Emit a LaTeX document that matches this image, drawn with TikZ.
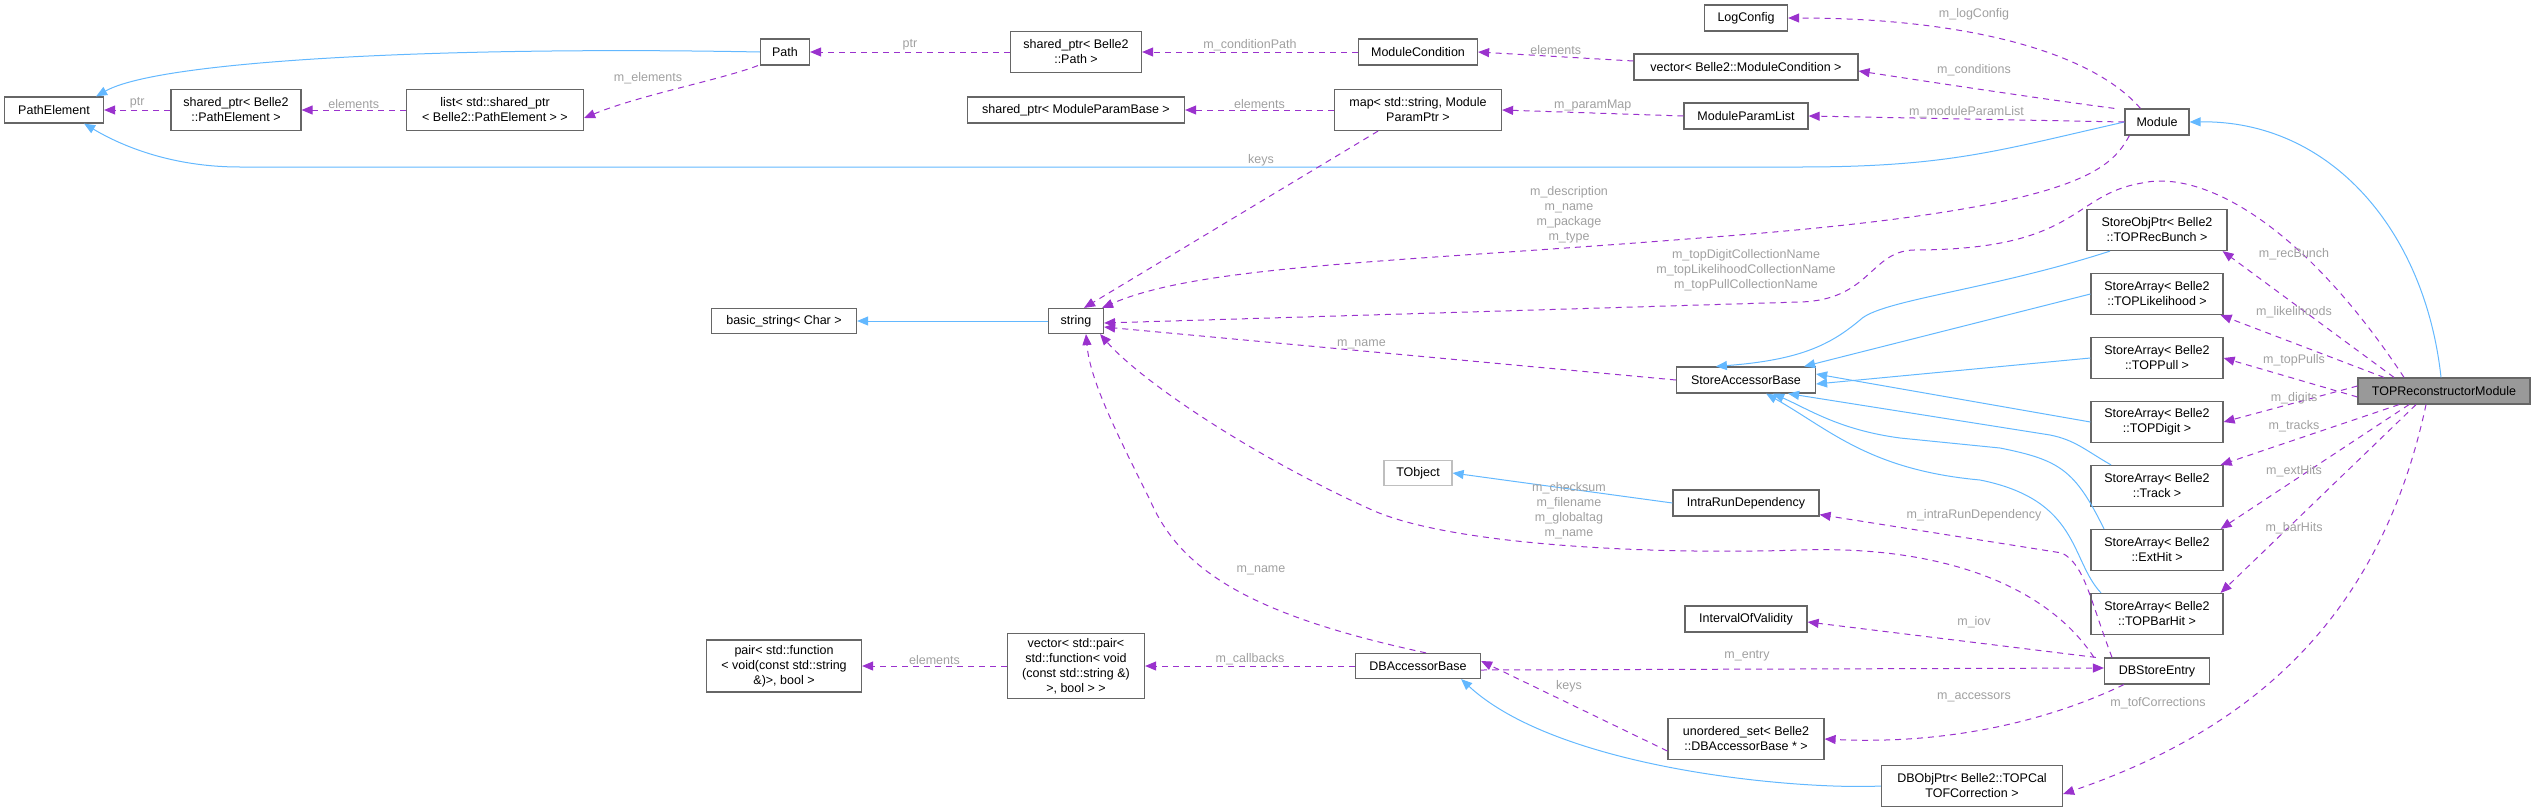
\documentclass[tikz,border=0pt]{standalone}
\usepackage{fontspec}
\setmainfont{Liberation Sans}
\usetikzlibrary{arrows.meta}
\definecolor{inh}{RGB}{99,184,255}
\definecolor{use}{RGB}{154,50,205}
\definecolor{lbl}{RGB}{160,160,160}
\definecolor{bord}{RGB}{102,102,102}
\begin{document}
\begin{tikzpicture}[x=1pt,y=-1pt,
  box/.style={draw=bord,line width=1.2pt,fill=white,inner sep=0pt,align=center,font=\fontsize{12.5}{15}\selectfont},
  inh/.style={draw=inh,line width=1pt,-{Triangle[length=11pt,width=9pt]}},
  use/.style={draw=use,line width=1pt,dash pattern=on 6pt off 5pt,-{Triangle[length=11pt,width=9pt]}},
  lab/.style={text=lbl,font=\fontsize{12.5}{15}\selectfont,align=center,inner sep=1pt}]
\useasboundingbox (0,0) rectangle (2531,811);
% nodes
\node[box,minimum width=99,minimum height=26] (pe) at (54,110) {PathElement};
\node[box,minimum width=130,minimum height=41] (spe) at (236,110) {shared\_ptr< Belle2\\::PathElement >};
\node[box,minimum width=177,minimum height=41] (lst) at (495,110) {list< std::shared\_ptr\\< Belle2::PathElement > >};
\node[box,minimum width=49,minimum height=26] (path) at (785,52) {Path};
\node[box,minimum width=131,minimum height=41] (spp) at (1076,52) {shared\_ptr< Belle2\\::Path >};
\node[box,minimum width=119,minimum height=26] (mc) at (1418,52) {ModuleCondition};
\node[box,minimum width=224,minimum height=26] (vmc) at (1746,67) {vector< Belle2::ModuleCondition >};
\node[box,minimum width=83,minimum height=26] (log) at (1746,18) {LogConfig};
\node[box,minimum width=217,minimum height=26] (spmb) at (1076,110) {shared\_ptr< ModuleParamBase >};
\node[box,minimum width=167,minimum height=41] (map) at (1418,110) {map< std::string, Module\\ParamPtr >};
\node[box,minimum width=124,minimum height=26] (mpl) at (1746,116) {ModuleParamList};
\node[box,minimum width=64,minimum height=26] (mod) at (2157,122) {Module};
\node[box,minimum width=145,minimum height=25] (bstr) at (784,321) {basic\_string< Char >};
\node[box,minimum width=55,minimum height=25] (str) at (1076,321) {string};
\node[box,minimum width=139,minimum height=26] (sab) at (1746,380) {StoreAccessorBase};
\node[box,minimum width=140,minimum height=41] (sop) at (2157,230) {StoreObjPtr< Belle2\\::TOPRecBunch >};
\node[box,minimum width=132,minimum height=41] (slh) at (2157,294) {StoreArray< Belle2\\::TOPLikelihood >};
\node[box,minimum width=132,minimum height=41] (spu) at (2157,358) {StoreArray< Belle2\\::TOPPull >};
\node[box,minimum width=132,minimum height=41] (sdi) at (2157,422) {StoreArray< Belle2\\::TOPDigit >};
\node[box,minimum width=132,minimum height=41] (str2) at (2157,486) {StoreArray< Belle2\\::Track >};
\node[box,minimum width=132,minimum height=41] (seh) at (2157,550) {StoreArray< Belle2\\::ExtHit >};
\node[box,minimum width=132,minimum height=41] (sbh) at (2157,614) {StoreArray< Belle2\\::TOPBarHit >};
\node[box,fill={rgb,255:red,153;green,153;blue,153},minimum width=172,minimum height=26] (top) at (2444,391) {TOPReconstructorModule};
\node[box,draw={rgb,255:red,191;green,191;blue,191},minimum width=68,minimum height=25] (tobj) at (1418,473) {TObject};
\node[box,minimum width=146,minimum height=26] (ird) at (1746,503) {IntraRunDependency};
\node[box,minimum width=122,minimum height=26] (iov) at (1746,619) {IntervalOfValidity};
\node[box,minimum width=105,minimum height=26] (dbse) at (2157,671) {DBStoreEntry};
\node[box,minimum width=156,minimum height=41] (uset) at (1746,739) {unordered\_set< Belle2\\::DBAccessorBase * >};
\node[box,minimum width=181,minimum height=41] (dbop) at (1972,786) {DBObjPtr< Belle2::TOPCal\\TOFCorrection >};
\node[box,minimum width=125,minimum height=25] (dbab) at (1418,666) {DBAccessorBase};
\node[box,minimum width=137,minimum height=65] (vpr) at (1076,666) {vector< std::pair<\\std::function< void\\(const std::string \&)\\>, bool > >};
\node[box,minimum width=155,minimum height=52] (pair) at (784,666) {pair< std::function\\< void(const std::string\\\&)>, bool >};
% inheritance
\draw[inh] (path.west) .. controls (450,46) and (160,60) .. ([xshift=-8]pe.north east);
\draw[inh] (mod.west) .. controls (2000,150) and (1950,167) .. (1800,167) -- (240,167) .. controls (170,167) and (120,145) .. ([xshift=-20]pe.south east);
\draw[inh] ([xshift=-3]top.north) .. controls (2425,230) and (2330,120) .. (mod.east);
\draw[inh] ([xshift=-47]sop.south) .. controls (1990,290) and (1880,300) .. (1860,320) .. controls (1830,345) and (1800,360) .. ([xshift=40]sab.north west);
\draw[inh] (slh.west) -- ([xshift=-12]sab.north east);
\draw[inh] (spu.west) -- ([yshift=-4]sab.east);
\draw[inh] (sdi.west) -- ([yshift=6]sab.east);
\draw[inh] ([xshift=-46]str2.north) .. controls (2085,450) and (2075,440) .. (2050,435) -- ([xshift=-28]sab.south east);
\draw[inh] ([xshift=-53]seh.north) .. controls (2075,470) and (2060,460) .. (2000,448) -- (1900,438) .. controls (1840,430) and (1810,410) .. ([xshift=-43]sab.south east);
\draw[inh] ([xshift=-56]sbh.north) .. controls (2070,560) and (2080,500) .. (1980,480) .. controls (1870,470) and (1830,430) .. ([xshift=-50]sab.south east);
\draw[inh] (str.west) -- (bstr.east);
\draw[inh] (ird.west) -- (tobj.east);
\draw[inh] (dbop.west) .. controls (1800,790) and (1560,770) .. ([xshift=-20]dbab.south east);
% usage
\draw[use] (spe.west) -- node[lab,above] {ptr} (pe.east);
\draw[use] (lst.west) -- node[lab,above] {elements} (spe.east);
\draw[use] ([xshift=-2]path.south west) .. controls (720,80) and (640,95) .. ([yshift=-8]lst.east);
\node[lab] (l1) at (648,78) {m\_elements};
\draw[use] (spp.west) -- node[lab,above] {ptr} (path.east);
\draw[use] (mc.west) -- node[lab,above] {m\_conditionPath} (spp.east);
\draw[use] ([yshift=6]vmc.west) -- node[lab,above] {elements} (mc.east);
\draw[use] ([xshift=-10]mod.north west) .. controls (2050,100) and (1950,85) .. ([yshift=-4]vmc.east);
\node[lab] (l2) at (1974,70) {m\_conditions};
\draw[use] ([xshift=16]mod.north west) .. controls (2090,50) and (1960,18) .. (log.east);
\node[lab] (l3) at (1974,14) {m\_logConfig};
\draw[use] (mod.west) -- node[lab,above] {m\_moduleParamList} (mpl.east);
\draw[use] (mpl.west) -- node[lab,above] {m\_paramMap} (map.east);
\draw[use] (map.west) -- node[lab,above] {elements} (spmb.east);
\draw[use] ([xshift=-40]map.south) -- ([xshift=8]str.north);
\node[lab] (l4) at (1261,160) {keys};
\draw[use] ([xshift=5]mod.south west) .. controls (2110,170) and (2080,210) .. (1700,238) .. controls (1400,262) and (1200,265) .. ([xshift=-2]str.north east);
\node[lab] (l5) at (1569,215) {m\_description\\m\_name\\m\_package\\m\_type};
\draw[use] ([xshift=-40]top.north) .. controls (2300,220) and (2200,170) .. (2142,183) .. controls (2070,195) and (2080,250) .. (1913,250) .. controls (1870,252) and (1870,300) .. (1800,302) -- ([yshift=-2]str.east);
\node[lab] (l6) at (1746,270) {m\_topDigitCollectionName\\m\_topLikelihoodCollectionName\\m\_topPullCollectionName};
\draw[use] (sab.west) -- node[lab,above,pos=0.55] {m\_name} ([yshift=-6]str.east);
\draw[use] ([xshift=-10]dbse.north west) .. controls (2050,590) and (1950,545) .. (1800,550) .. controls (1650,555) and (1450,545) .. (1372,510) .. controls (1250,455) and (1140,380) .. ([xshift=-4]str.south east);
\node[lab] (l7) at (1569,511) {m\_checksum\\m\_filename\\m\_globaltag\\m\_name};
\draw[use] ([xshift=-55]dbab.north east) .. controls (1250,615) and (1180,570) .. (1150,500) .. controls (1115,430) and (1090,380) .. ([xshift=10]str.south);
\node[lab] (l8) at (1261,570) {m\_name};
\draw[use] ([xshift=-50]top.north) -- ([xshift=-5]sop.south east);
\node[lab] (l9) at (2294,254) {m\_recBunch};
\draw[use] ([xshift=-60]top.north) -- ([xshift=-3]slh.south east);
\node[lab] (l10) at (2294,312) {m\_likelihoods};
\draw[use] ([yshift=-6]top.west) -- (spu.east);
\node[lab] (l11) at (2294,360) {m\_topPulls};
\draw[use] ([yshift=5]top.west) -- (sdi.east);
\node[lab] (l12) at (2294,398) {m\_digits};
\draw[use] ([xshift=-45]top.south) -- ([xshift=-3]str2.north east);
\node[lab] (l13) at (2294,426) {m\_tracks};
\draw[use] ([xshift=-35]top.south) -- ([xshift=-3]seh.north east);
\node[lab] (l14) at (2294,471) {m\_extHits};
\draw[use] ([xshift=-28]top.south) -- ([xshift=-3]sbh.north east);
\node[lab] (l15) at (2294,528) {m\_barHits};
\draw[use] ([xshift=-18]top.south) .. controls (2380,620) and (2250,730) .. ([yshift=-8]dbop.east);
\node[lab] (l16) at (2158,703) {m\_tofCorrections};
\draw[use] ([xshift=-45]dbse.north) .. controls (2090,600) and (2085,565) .. (2062,553) -- ([yshift=2]ird.south east);
\node[lab] (l17) at (1974,515) {m\_intraRunDependency};
\draw[use] ([xshift=-8]dbse.north west) -- ([yshift=-3]iov.east);
\node[lab] (l18) at (1974,622) {m\_iov};
\draw[use] ([yshift=-4]dbab.east) -- ([yshift=3]dbse.west);
\node[lab] (l19) at (1747,656) {m\_entry};
\draw[use] ([xshift=20]dbse.south west) .. controls (2050,720) and (1950,745) .. (uset.east);
\node[lab] (l20) at (1974,697) {m\_accessors};
\draw[use] ([yshift=-12]uset.west) -- ([yshift=5]dbab.east);
\node[lab] (l21) at (1569,686) {keys};
\draw[use] (dbab.west) -- node[lab,above] {m\_callbacks} (vpr.east);
\draw[use] (vpr.west) -- node[lab,above] {elements} (pair.east);
\end{tikzpicture}
\end{document}
